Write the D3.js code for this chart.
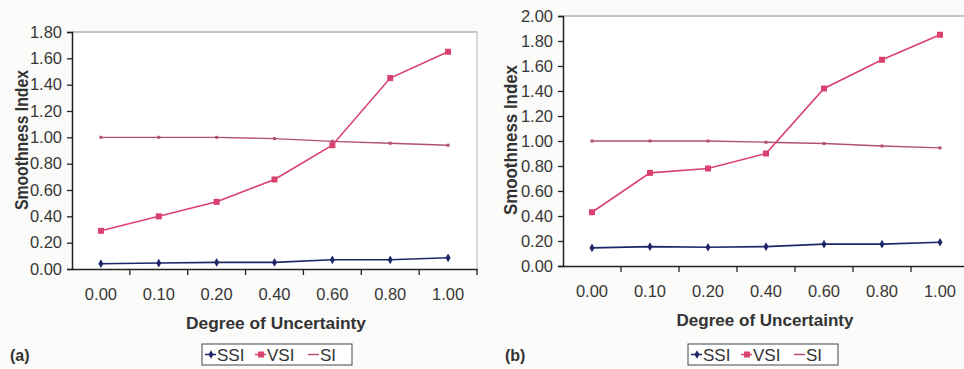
<!DOCTYPE html>
<html>
<head>
<meta charset="utf-8">
<script src="https://cdn.jsdelivr.net/npm/d3@7"></script>
<style>
  html, body { margin: 0; padding: 0; background: #fbfbf9; }
  svg { display: block; font-family: Arial, "Liberation Sans", sans-serif; }
</style>
</head>
<body>
<svg id="chart" width="964" height="369"></svg>
<script>
// ---- data ----
const categories = ["0.00", "0.10", "0.20", "0.40", "0.60", "0.80", "1.00"];
const seriesNames = ["SSI", "VSI", "SI"];

// panel (a)
const ssiA = [0.04, 0.045, 0.05, 0.05, 0.07, 0.07, 0.085];
const vsiA = [0.29, 0.40, 0.51, 0.68, 0.94, 1.45, 1.65];
const siA  = [1.00, 1.00, 1.00, 0.99, 0.97, 0.955, 0.94];
const yTicksA = [0, 0.2, 0.4, 0.6, 0.8, 1.0, 1.2, 1.4, 1.6, 1.8];

// panel (b)
const ssiB = [0.145, 0.155, 0.15, 0.155, 0.175, 0.175, 0.19];
const vsiB = [0.43, 0.745, 0.78, 0.90, 1.42, 1.65, 1.85];
const siB  = [1.00, 1.00, 1.00, 0.99, 0.98, 0.96, 0.945];
const yTicksB = [0, 0.2, 0.4, 0.6, 0.8, 1.0, 1.2, 1.4, 1.6, 1.8, 2.0];

const colors = { SSI: "#1d2768", VSI: "#d9416e", SI: "#b24f78" };

const svg = d3.select("#chart");

function drawPanel(opt) {
  const g = svg.append("g");
  const x = d3.scaleBand().domain(categories).range([opt.x0, opt.x1]).padding(0);
  const y = d3.scaleLinear().domain([0, opt.yMax]).range([opt.yBottom, opt.yTop]);

  // plot area background and border (top/right)
  g.append("rect").attr("x", opt.x0).attr("y", opt.yTop)
    .attr("width", opt.x1 - opt.x0).attr("height", opt.yBottom - opt.yTop)
    .attr("fill", "#ffffff");
  g.append("line").attr("x1", opt.x0).attr("x2", opt.x1)
    .attr("y1", opt.yTop).attr("y2", opt.yTop)
    .attr("stroke", "#8a8a8a").attr("stroke-width", 1);
  g.append("line").attr("x1", opt.x1).attr("x2", opt.x1)
    .attr("y1", opt.yTop).attr("y2", opt.yBottom)
    .attr("stroke", "#b5b5b5").attr("stroke-width", 1);

  // y axis
  const yAxis = d3.axisLeft(y).tickValues(opt.yTicks).tickFormat(d3.format(".2f"))
    .tickSize(5).tickPadding(5);
  const ya = g.append("g").attr("transform", `translate(${opt.x0},0)`).call(yAxis);
  ya.select(".domain").attr("stroke", "#222").attr("stroke-width", 1.5);
  ya.selectAll(".tick line").attr("stroke", "#222").attr("stroke-width", 1.3);
  ya.selectAll(".tick text").attr("font-size", 16.5).attr("fill", "#383838")
    .attr("font-family", "Arial, 'Liberation Sans', sans-serif");

  // x axis: labels at band centers, ticks at band boundaries
  const xAxis = d3.axisBottom(x).tickSize(0).tickPadding(19);
  const xa = g.append("g").attr("transform", `translate(0,${opt.yBottom})`).call(xAxis);
  xa.select(".domain").attr("stroke", "#222").attr("stroke-width", 1.5);
  xa.selectAll(".tick text").attr("font-size", 16.5).attr("fill", "#383838")
    .attr("font-family", "Arial, 'Liberation Sans', sans-serif");
  const bounds = categories.map(c => x(c)).concat([x(categories[categories.length - 1]) + x.bandwidth()]);
  g.selectAll(".xtick").data(bounds.slice(1)).join("line")
    .attr("x1", d => d).attr("x2", d => d)
    .attr("y1", opt.yBottom).attr("y2", opt.yBottom + 6)
    .attr("stroke", "#222").attr("stroke-width", 1.3);

  // axis titles
  g.append("text").attr("x", opt.xTitleX).attr("y", opt.xTitleY)
    .attr("text-anchor", "middle").attr("font-size", 16).attr("font-weight", "bold")
    .attr("textLength", opt.xTitleLen).attr("lengthAdjust", "spacingAndGlyphs")
    .attr("fill", "#333").text("Degree of Uncertainty");
  g.append("text")
    .attr("transform", `translate(${opt.yTitleX},${opt.yTitleY}) rotate(-90)`)
    .attr("text-anchor", "middle").attr("font-size", 18).attr("font-weight", "bold")
    .attr("textLength", opt.yTitleLen).attr("lengthAdjust", "spacingAndGlyphs")
    .attr("fill", "#333").text("Smoothness Index");

  // panel label
  g.append("text").attr("x", opt.labelX).attr("y", opt.labelY)
    .attr("font-size", 16).attr("font-weight", "bold").attr("fill", "#333").text(opt.label);

  const cx = c => x(c) + x.bandwidth() / 2;
  const line = d3.line().x((d, i) => cx(categories[i])).y(d => y(d));

  const series = [
    { name: "SI", values: opt.si },
    { name: "SSI", values: opt.ssi },
    { name: "VSI", values: opt.vsi }
  ];
  series.forEach(s => {
    g.append("path").datum(s.values).attr("d", line)
      .attr("fill", "none").attr("stroke", colors[s.name])
      .attr("stroke-width", s.name === "SI" ? 1.3 : 1.6);
    const pts = g.selectAll(null).data(s.values).enter();
    if (s.name === "SSI") {
      pts.append("path")
        .attr("d", d3.symbol(d3.symbolDiamond, 22)())
        .attr("transform", (d, i) => `translate(${cx(categories[i])},${y(d)})`)
        .attr("fill", colors.SSI);
    } else if (s.name === "VSI") {
      pts.append("rect")
        .attr("x", (d, i) => cx(categories[i]) - 3).attr("y", d => y(d) - 3)
        .attr("width", 6).attr("height", 6).attr("fill", colors.VSI);
    } else {
      pts.append("rect")
        .attr("x", (d, i) => cx(categories[i]) - 1.5).attr("y", d => y(d) - 1.5)
        .attr("width", 3).attr("height", 3).attr("fill", colors.SI);
    }
  });

  // legend
  const lg = g.append("g").attr("transform", `translate(${opt.legendX},${opt.legendY})`);
  lg.append("rect").attr("x", 0).attr("y", 0).attr("width", 150).attr("height", 21)
    .attr("fill", "#fff").attr("stroke", "#444").attr("stroke-width", 1);
  const entryX = [3, 53, 106];
  seriesNames.forEach((n, i) => {
    const ex = entryX[i];
    lg.append("line").attr("x1", ex).attr("x2", ex + 11).attr("y1", 10.5).attr("y2", 10.5)
      .attr("stroke", colors[n]).attr("stroke-width", 1.5);
    if (n === "SSI") {
      lg.append("path").attr("d", d3.symbol(d3.symbolDiamond, 22)())
        .attr("transform", `translate(${ex + 6},10.5)`).attr("fill", colors.SSI);
    } else if (n === "VSI") {
      lg.append("rect").attr("x", ex + 3).attr("y", 7.5).attr("width", 6).attr("height", 6)
        .attr("fill", colors.VSI);
    }
    lg.append("text").attr("x", ex + 12).attr("y", 16.5).attr("font-size", 17)
      .attr("fill", "#333").text(n);
  });
}

drawPanel({
  x0: 72, x1: 477, yTop: 32, yBottom: 269, yMax: 1.8, yTicks: yTicksA,
  ssi: ssiA, vsi: vsiA, si: siA,
  xTitleX: 276, xTitleY: 329, xTitleLen: 180,
  yTitleX: 28, yTitleY: 140, yTitleLen: 140,
  label: "(a)", labelX: 10, labelY: 361,
  legendX: 202, legendY: 344
});

drawPanel({
  x0: 563, x1: 969, yTop: 16, yBottom: 266, yMax: 2.0, yTicks: yTicksB,
  ssi: ssiB, vsi: vsiB, si: siB,
  xTitleX: 765, xTitleY: 326, xTitleLen: 177,
  yTitleX: 517, yTitleY: 140, yTitleLen: 150,
  label: "(b)", labelX: 505, labelY: 361,
  legendX: 688, legendY: 344
});
</script>
</body>
</html>
